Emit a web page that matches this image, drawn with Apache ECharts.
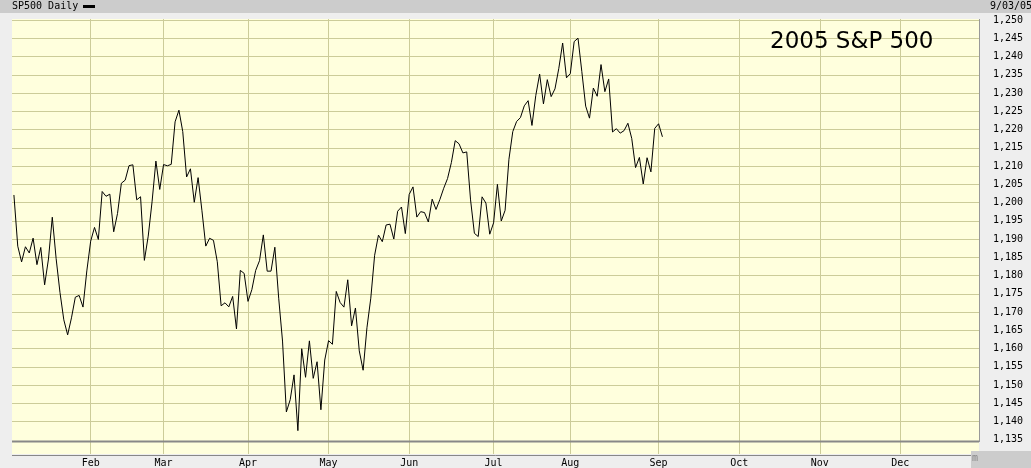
<!DOCTYPE html>
<html><head><meta charset="utf-8">
<script src="https://cdn.jsdelivr.net/npm/echarts@6/dist/echarts.min.js"></script>
<style>html,body{margin:0;padding:0;background:#eeeeee;overflow:hidden}#c{width:1031px;height:468px}</style>
</head><body><div id="c"></div>
<script>
// ---- data ----
const holidays2005 = ['2005-01-17','2005-02-21','2005-03-25','2005-05-30','2005-07-04','2005-09-05','2005-11-24','2005-12-26'];
const monthNames = ['Jan','Feb','Mar','Apr','May','Jun','Jul','Aug','Sep','Oct','Nov','Dec'];
const yTicks = [1135,1140,1145,1150,1155,1160,1165,1170,1175,1180,1185,1190,1195,1200,1205,1210,1215,1220,1225,1230,1235,1240,1245,1250];
const closeJan = [1202.08,1188.05,1183.74,1187.89,1186.19,1190.25,1182.99,1187.70,1177.45,1184.52,1195.98,1184.63,1175.41,1167.87,1163.75,1168.41,1174.07,1174.55,1171.36,1181.27];
const closeFeb = [1189.41,1193.19,1189.89,1203.03,1201.72,1202.30,1191.99,1197.01,1205.30,1206.14,1210.12,1210.34,1200.75,1201.59,1184.16,1190.80,1200.20,1211.37,1203.60];
const closeMar = [1210.41,1210.08,1210.47,1222.12,1225.31,1219.43,1207.01,1209.25,1200.08,1206.83,1197.75,1188.07,1190.21,1189.65,1183.78,1171.71,1172.53,1171.42,1174.28,1165.36,1181.41,1180.59];
const closeApr = [1172.92,1176.12,1181.39,1184.07,1191.14,1181.20,1181.21,1187.76,1173.79,1162.05,1142.62,1145.98,1152.78,1137.50,1159.95,1152.12,1162.10,1151.83,1156.38,1143.22,1156.85];
const closeMay = [1162.16,1161.17,1175.65,1172.63,1171.35,1178.84,1166.22,1171.11,1159.36,1154.05,1165.69,1173.80,1185.56,1191.08,1189.28,1193.86,1194.07,1190.01,1197.62,1198.78,1191.50];
const closeJun = [1202.22,1204.29,1196.02,1197.51,1197.26,1194.67,1200.93,1198.11,1200.82,1203.91,1206.58,1210.96,1216.96,1216.10,1213.61,1213.88,1200.73,1191.57,1190.69,1201.57,1199.85,1191.33];
const closeJul = [1194.44,1204.99,1194.94,1197.87,1211.86,1219.44,1222.21,1223.29,1226.50,1227.92,1221.13,1229.35,1235.20,1227.04,1233.68,1229.03,1231.16,1236.79,1243.72,1234.18];
const closeAug = [1235.35,1244.12,1245.04,1235.86,1226.42,1223.13,1231.38,1229.13,1237.81,1230.39,1233.87,1219.34,1220.24,1219.02,1219.71,1221.73,1217.59,1209.59,1212.37,1205.10,1212.28,1208.41,1220.33];
const closeSep = [1221.59,1218.02];

// trading-day categories for 2005
const tradingDays = [];
for (let t = Date.UTC(2005,0,1); t <= Date.UTC(2005,11,31); t += 86400000) {
  const d = new Date(t);
  const wd = d.getUTCDay();
  const s = d.toISOString().slice(0,10);
  if (wd === 0 || wd === 6 || holidays2005.indexOf(s) >= 0) continue;
  tradingDays.push(s);
}
const monthStarts = {};
tradingDays.forEach(s => { const m = +s.slice(5,7); if (m > 1 && !(m in monthStarts)) monthStarts[m] = s; });
const monthStartList = Object.keys(monthStarts).map(k => monthStarts[k]);
const seriesData = [].concat(closeJan, closeFeb, closeMar, closeApr, closeMay, closeJun, closeJul, closeAug, closeSep);

const GRID = '#cccc99';
const mono = 'DejaVu Sans Mono';
const chart = echarts.init(document.getElementById('c'), null, {renderer: 'canvas'});
chart.setOption({
  animation: false,
  backgroundColor: '#eeeeee',
  grid: {left: 12, right: 52, top: 19, bottom: 13, show: true, backgroundColor: '#ffffdd', borderWidth: 0},
  xAxis: {
    type: 'category', data: tradingDays, boundaryGap: true,
    axisLine: {show: false}, axisTick: {show: false}, splitLine: {show: false},
    axisLabel: {
      interval: (i, v) => monthStartList.indexOf(v) >= 0,
      formatter: v => monthNames[+v.slice(5,7) - 1],
      fontFamily: mono, fontSize: 10, color: '#000', margin: 4
    }
  },
  yAxis: {
    type: 'value', position: 'right', min: 1131.1, max: 1250.3, scale: true,
    axisLine: {show: false}, axisTick: {show: false}, splitLine: {show: false},
    axisLabel: {
      customValues: yTicks, margin: 14, align: 'left',
      formatter: v => v.toLocaleString('en-US'),
      fontFamily: mono, fontSize: 10, color: '#000'
    }
  },
  series: [
    {
      type: 'line', data: seriesData, z: 1, silent: true,
      showSymbol: false, lineStyle: {opacity: 0}, itemStyle: {opacity: 0},
      markLine: {
        silent: true, symbol: ['none','none'], label: {show: false},
        lineStyle: {color: GRID, type: 'solid', width: 1},
        data: monthStartList.map(s => ({xAxis: s})).concat(yTicks.filter(v => v !== 1135).map(v => ({yAxis: v})))
      }
    },
    {
      type: 'line', data: seriesData, z: 5, showSymbol: false,
      lineStyle: {color: '#000', width: 1}, itemStyle: {color: '#000'}
    }
  ],
  graphic: [
    {type: 'rect', z: 100, shape: {x: 0, y: 0, width: 1031, height: 13}, style: {fill: '#cccccc'}},
    {type: 'text', z: 101, x: 12, y: 1, style: {text: 'SP500 Daily', font: '10px "DejaVu Sans Mono"', fill: '#000'}},
    {type: 'rect', z: 101, shape: {x: 83, y: 5, width: 12, height: 3}, style: {fill: '#000'}},
    {type: 'text', z: 101, x: 990, y: 1, style: {text: '9/03/05', font: '10px "DejaVu Sans Mono"', fill: '#000'}},
    {type: 'text', z: 101, x: 770, y: 31, style: {text: '2005 S&P 500', font: '23px "DejaVu Sans"', fill: '#000'}},
    {type: 'line', z: 100, shape: {x1: 12, y1: 441.5, x2: 979, y2: 441.5}, style: {stroke: '#888888', lineWidth: 2}},
    {type: 'line', z: 100, shape: {x1: 979.5, y1: 19, x2: 979.5, y2: 442}, style: {stroke: '#999999', lineWidth: 1}},
    {type: 'line', z: 100, shape: {x1: 12, y1: 455.5, x2: 979, y2: 455.5}, style: {stroke: '#888888', lineWidth: 1}},
    {type: 'rect', z: 102, shape: {x: 971, y: 451, width: 60, height: 17}, style: {fill: '#cccccc'}},
    {type: 'text', z: 103, x: 972, y: 453, style: {text: 'm', font: '10px "DejaVu Sans Mono"', fill: '#888888'}}
  ]
});
</script>
</body></html>
